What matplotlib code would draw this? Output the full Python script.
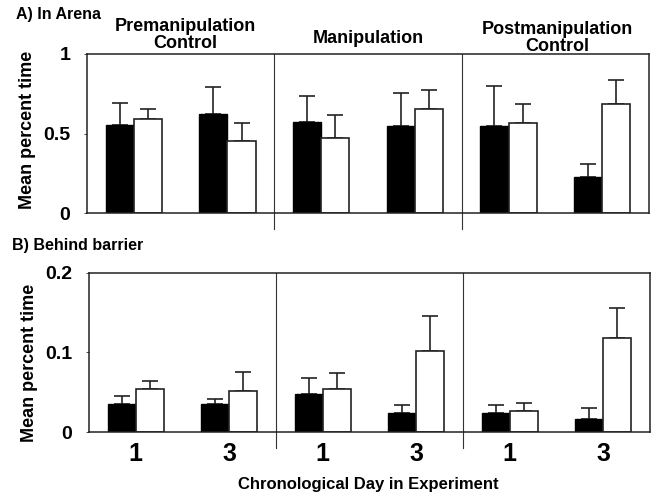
import numpy as np
import matplotlib
matplotlib.use("Agg")
import matplotlib.pyplot as plt

plt.rcParams['font.family'] = ['Liberation Sans', 'DejaVu Sans']
plt.rcParams['font.weight'] = 'bold'

# data
days = ['1', '3', '1', '3', '1', '3']
phases = ['Premanipulation\nControl', 'Manipulation', 'Postmanipulation\nControl']

arena_black = [0.555, 0.62, 0.572, 0.55, 0.55, 0.228]
arena_black_err = [0.135, 0.17, 0.166, 0.207, 0.25, 0.082]
arena_white = [0.59, 0.45, 0.47, 0.654, 0.568, 0.684]
arena_white_err = [0.066, 0.118, 0.148, 0.12, 0.118, 0.152]

barrier_black = [0.035, 0.035, 0.048, 0.024, 0.024, 0.016]
barrier_black_err = [0.010, 0.006, 0.020, 0.010, 0.010, 0.014]
barrier_white = [0.054, 0.051, 0.054, 0.102, 0.027, 0.118]
barrier_white_err = [0.0105, 0.024, 0.020, 0.044, 0.010, 0.038]

x = np.arange(len(days))
w = 0.3

fig = plt.figure(figsize=(6.51, 4.94), dpi=100)
ax1 = fig.add_axes([0.1336, 0.5688, 0.8634, 0.3219])
ax2 = fig.add_axes([0.1367, 0.1255, 0.8618, 0.3219])


def draw_panel(ax, black, black_err, white, white_err, ymax, ticks, ticklabels):
    ax.bar(x - w / 2, black, w, color='black', edgecolor='black', linewidth=1, zorder=2)
    ax.bar(x + w / 2, white, w, color='white', edgecolor='#222222', linewidth=1.2, zorder=2)
    ax.errorbar(x - w / 2, black, yerr=[np.zeros(len(x)), black_err], fmt='none',
                ecolor='#222222', elinewidth=1.2, capsize=6, capthick=1.2, zorder=1)
    ax.errorbar(x + w / 2, white, yerr=[np.zeros(len(x)), white_err], fmt='none',
                ecolor='#222222', elinewidth=1.2, capsize=6, capthick=1.2, zorder=1)
    for xd in [1.5, 3.5]:
        ax.axvline(xd, ymin=-0.1, ymax=1, color='#333333', linewidth=0.8, clip_on=False)
    ax.set_xlim(-0.5, 5.5)
    ax.set_ylim(0, ymax)
    ax.set_yticks(ticks)
    ax.set_yticklabels(ticklabels, fontsize=14, fontweight='bold')
    ax.tick_params(axis='y', length=2, width=0.5, pad=10)
    for s in ax.spines.values():
        s.set_linewidth(1.1)
        s.set_color('#222222')


draw_panel(ax1, arena_black, arena_black_err, arena_white, arena_white_err,
           1.0, [0, 0.5, 1], ['0', '0.5', '1'])
draw_panel(ax2, barrier_black, barrier_black_err, barrier_white, barrier_white_err,
           0.2, [0, 0.1, 0.2], ['0', '0.1', '0.2'])

ax1.set_xticks([])
ax2.set_xticks(x)
ax2.set_xticklabels(days, fontsize=18, fontweight='bold')
ax2.tick_params(axis='x', length=0, pad=7)

# phase titles above the top panel
tr = ax1.get_xaxis_transform()
ax1.text(0.55, 1.12, phases[0], transform=tr, ha='center', va='center',
         fontsize=13, fontweight='bold', linespacing=1.0)
ax1.text(2.5, 1.095, phases[1], transform=tr, ha='center', va='center',
         fontsize=13, fontweight='bold')
ax1.text(4.52, 1.10, phases[2], transform=tr, ha='center', va='center',
         fontsize=13, fontweight='bold', linespacing=1.0)

fig.text(16 / 651, 1 - 14 / 494, 'A) In Arena', ha='left', va='center', fontsize=11.5, fontweight='bold')
fig.text(12 / 651, 1 - 245 / 494, 'B) Behind barrier', ha='left', va='center', fontsize=11.5, fontweight='bold')

fig.text(28 / 651, 1 - 130 / 494, 'Mean percent time', rotation=90, ha='center', va='center',
         fontsize=13, fontweight='bold')
fig.text(30 / 651, 1 - 363 / 494, 'Mean percent time', rotation=90, ha='center', va='center',
         fontsize=13, fontweight='bold')

fig.text(368 / 651, 1 - 484 / 494, 'Chronological Day in Experiment', ha='center', va='center',
         fontsize=12, fontweight='bold')

fig.savefig('out.png', dpi=100)
